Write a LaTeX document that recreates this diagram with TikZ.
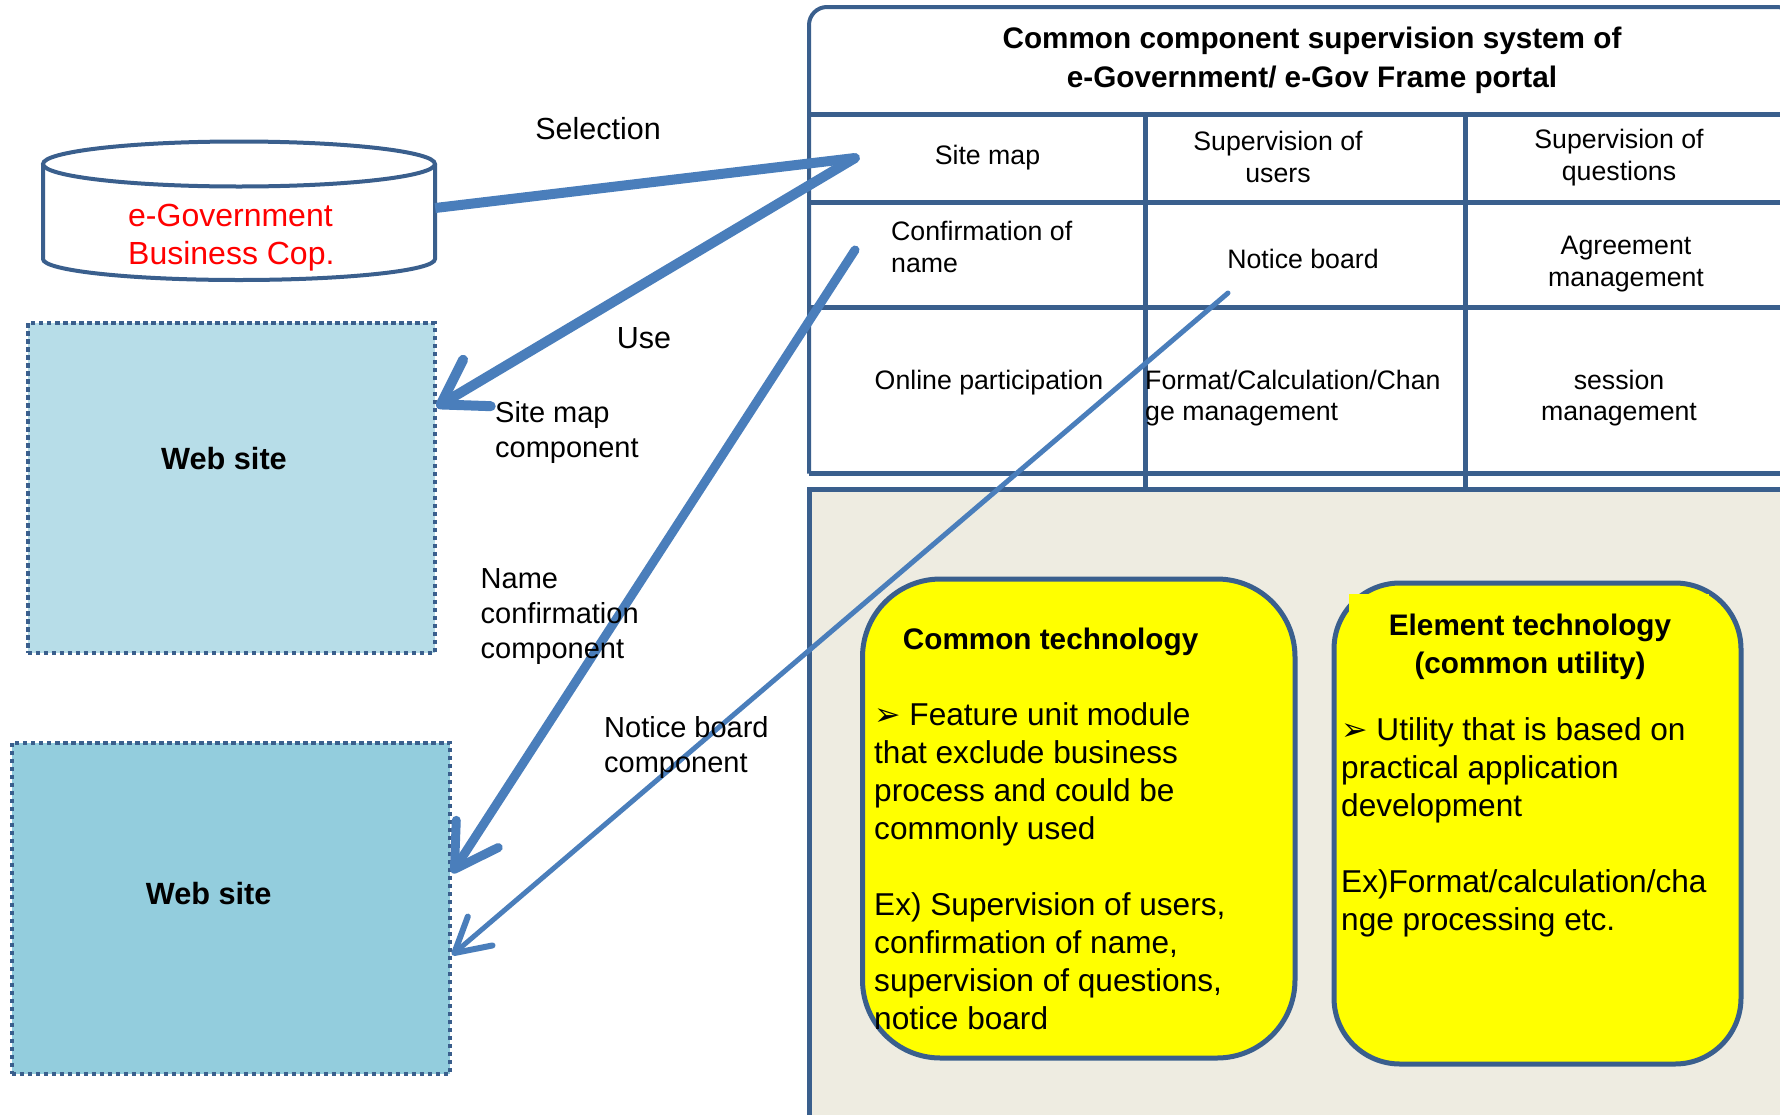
\documentclass[tikz,border=0pt]{standalone}
\usepackage{fontspec}
\setmainfont{Liberation Sans}
\newfontfamily\dejavu{DejaVu Sans}
\usetikzlibrary{arrows.meta}
\definecolor{frameblue}{HTML}{3A5F8D}
\definecolor{arrowblue}{HTML}{4A7EBB}
\definecolor{siteA}{HTML}{B7DDE8}
\definecolor{siteB}{HTML}{93CDDD}
\definecolor{panelbg}{HTML}{EEECE1}
\definecolor{ylw}{HTML}{FFFF00}
\begin{document}
\begin{tikzpicture}[x=1pt,y=-1pt,
  lbl/.style={inner sep=0, font=\fontsize{29}{35}\selectfont, align=left},
  biglbl/.style={inner sep=0, font=\fontsize{30.5}{36}\selectfont},
  cell/.style={inner sep=0, font=\fontsize{26.7}{32}\selectfont},
  body/.style={inner sep=0, font=\fontsize{31.6}{38}\selectfont, align=left},
  hd/.style={inner sep=0, font=\bfseries\fontsize{29.7}{38}\selectfont, align=center},
  sitetxt/.style={inner sep=0, font=\bfseries\fontsize{30.7}{36}\selectfont},
  sitebox/.style={draw=frameblue, line width=4, dash pattern=on 4.5pt off 3.5pt, inner sep=0},
  ybox/.style={draw=frameblue, line width=5, fill=ylw, inner sep=0},
  conn/.style={draw=arrowblue, line cap=round},
  grid/.style={draw=frameblue, line width=5}
]
\useasboundingbox (0,0) rectangle (1780,1114);
\clip (0,0) rectangle (1780,1114);

% ---- right frame, table and panel ----
\fill[panelbg] (809,489) rectangle (1800,1130);
\draw[frameblue, line width=4, rounded corners=18] (809,473.5) -- (809,7) -- (1795,7) -- (1795,473.5);
\draw[grid] (809,114) -- (1800,114);
\draw[grid] (809,202.5) -- (1800,202.5);
\draw[grid] (809,307.5) -- (1800,307.5);
\draw[grid] (809,473.5) -- (1800,473.5);
\draw[grid] (1145,114) -- (1145,489);
\draw[grid] (1465,114) -- (1465,489);
\draw[grid] (1800,489) -- (809,489) -- (809,1130);

% ---- yellow boxes ----
\node[ybox, minimum width=432.5, minimum height=479, rounded corners=78] (ct) at (1078.75,818.5) {};
\node[ybox, minimum width=407, minimum height=481, rounded corners=66] (et) at (1537.5,823.5) {};
\fill[ylw] (1349,594) rectangle (1709,700);

% ---- cylinder ----
\draw[frameblue, line width=4, fill=white] (43,164) -- (43,259) arc[start angle=180, end angle=0, x radius=196, y radius=21] -- (435,164);
\draw[frameblue, line width=4, fill=white] (239,164) ellipse [x radius=196, y radius=22.5];
\node[inner sep=0, minimum width=392, minimum height=110] (cyl) at (239,208) {};

% ---- web sites ----
\node[sitebox, fill=siteA, minimum width=407, minimum height=330] (ws1) at (231,488) {};
\node[sitebox, fill=siteB, minimum width=438.5, minimum height=331] (ws2) at (230.75,908.3) {};

% ---- connectors ----
\coordinate (selT) at (855,158);
\coordinate (ncS) at (855,250);
\coordinate (nbS) at (1228,293);
\draw[conn, line width=10, line cap=butt] (cyl.east) -- (selT);
\draw[conn, line width=10, -{Straight Barb[length=42pt, width=54pt, round, line width=10pt]}] (selT) -- (ws1.east |- 0,407);
\draw[conn, line width=9, -{Straight Barb[length=42pt, width=50pt, round, line width=9pt]}] (ncS) -- (ws2.east |- 0,873);
\draw[conn, line width=5, -{Straight Barb[length=34pt, width=38pt, round, line width=6pt]}] (nbS) -- (ws2.east |- 0,955);

% ---- texts (base anchor = baseline of the last line) ----
\node[inner sep=0, anchor=base west, text=red, align=left, font=\fontsize{32}{37.5}\selectfont] (cyltxt) at (128,264.2) {e-Government\\Business Cop.};
\node[sitetxt, anchor=base] (ws1txt) at (224,469) {Web site};
\node[sitetxt, anchor=base] (ws2txt) at (208.7,904) {Web site};

\node[biglbl, anchor=base] (sel) at (598,139) {Selection};
\node[biglbl, anchor=base] (use) at (644,348) {Use};
\node[lbl, anchor=base west] (smc) at (495,457.5) {Site map\\component};
\node[lbl, anchor=base west] (ncc) at (480.5,658.5) {Name\\confirmation\\component};
\node[lbl, anchor=base west] (nbc) at (604,772.5) {Notice board\\component};

\node[hd, anchor=base, font=\bfseries\fontsize{29.7}{39}\selectfont] (title) at (1312,87.6) {Common component supervision system of\\e-Government/ e-Gov Frame portal};

\node[cell, anchor=base] (c11) at (987.5,164.6) {Site map};
\node[cell, anchor=base, align=center] (c12) at (1278,182) {Supervision of\\users};
\node[cell, anchor=base, align=center] (c13) at (1619,180) {Supervision of\\questions};
\node[cell, anchor=base west, align=left] (c21) at (891,272.6) {Confirmation of\\name};
\node[cell, anchor=base] (c22) at (1303,268.6) {Notice board};
\node[cell, anchor=base, align=center] (c23) at (1626,286.6) {Agreement\\management};
\node[cell, anchor=base] (c31) at (989,389.6) {Online participation};
\node[cell, anchor=base west, align=left, font=\fontsize{26.7}{31}\selectfont] (c32) at (1145,420.6) {Format/Calculation/Chan\\ge management};
\node[cell, anchor=base, align=center, font=\fontsize{26.7}{31}\selectfont] (c33) at (1619,420.6) {session\\management};

\node[hd, anchor=base] (cthd) at (1050.6,649.7) {Common technology};
\node[body, anchor=base west] (ctbody) at (874,1029.4) {{\dejavu ➢} Feature unit module\\that exclude business\\process and could be\\commonly used\\[38pt]Ex) Supervision of users,\\confirmation of name,\\supervision of questions,\\notice board};
\node[hd, anchor=base] (ethd) at (1530,673.7) {Element technology\\(common utility)};
\node[body, anchor=base west] (etbody) at (1341,930.4) {{\dejavu ➢} Utility that is based on\\practical application\\development\\[38pt]Ex)Format/calculation/cha\\nge processing etc.};
\end{tikzpicture}
\end{document}
